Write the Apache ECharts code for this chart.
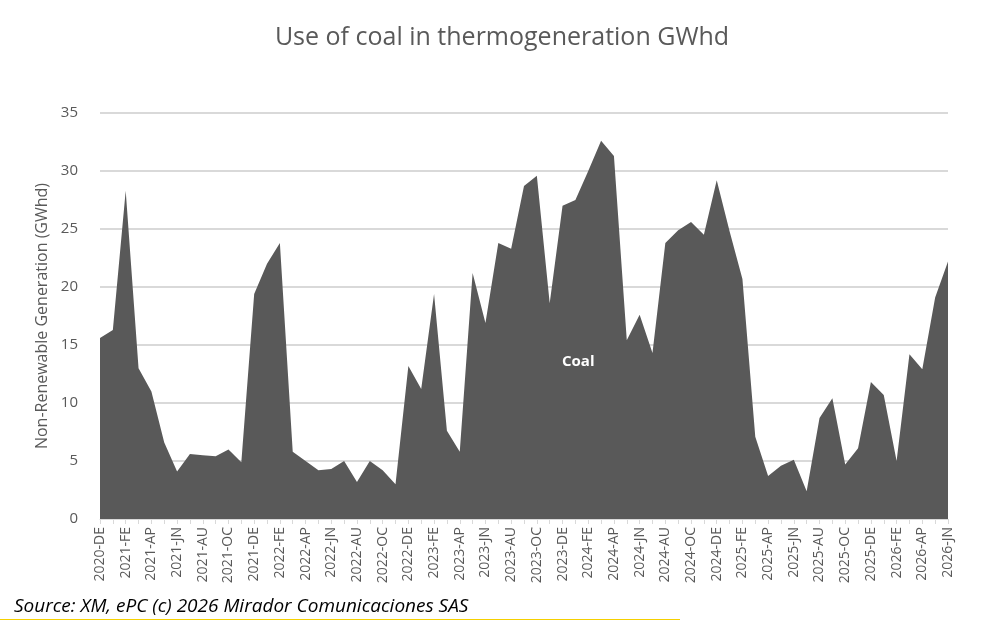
<!DOCTYPE html>
<html><head><meta charset="utf-8">
<script src="https://cdn.jsdelivr.net/npm/echarts@6/dist/echarts.min.js"></script>
<style>html,body{margin:0;padding:0;background:#fff}#c{width:1004px;height:621px}</style>
</head><body><div id="c"></div>
<script>
const monthAbbr = ['JA','FE','MR','AP','MY','JN','JL','AU','SE','OC','NO','DE'];
const categories = [];
for (let y = 2020, m = 11; !(y === 2026 && m === 6); ) { categories.push(y + '-' + monthAbbr[m]); m++; if (m === 12) { m = 0; y++; } }
const coal = [15.6,16.3,28.3,13.0,11.0,6.6,4.1,5.6,5.5,5.4,6.0,4.9,19.4,22.0,23.8,5.8,5.0,4.2,4.3,5.0,3.2,5.0,4.2,3.0,13.2,11.2,19.4,7.6,5.8,21.2,16.9,23.8,23.3,28.7,
29.6,18.6,27.0,27.5,30.0,32.6,31.3,15.4,17.6,14.3,23.8,24.9,25.6,24.5,29.2,24.8,20.7,7.1,3.7,4.6,5.1,2.4,8.7,10.4,4.7,6.1,11.8,10.7,5.0,14.2,12.9,19.1,22.2];
const chart = echarts.init(document.getElementById('c'));
chart.setOption({
  animation:false,
  title:{text:'Use of coal in thermogeneration GWhd',left:'center',top:20,textStyle:{fontFamily:'Open Sans',fontWeight:'normal',fontSize:25,color:'#595959'}},
  grid:{left:100,right:56,top:113,bottom:102},
  xAxis:{type:'category',data:categories,boundaryGap:false,
    axisLine:{lineStyle:{color:'#d9d9d9'}},axisTick:{show:true,interval:0,lineStyle:{color:'#d9d9d9'}},
    axisLabel:{interval:1,rotate:90,color:'#595959',fontSize:14,fontFamily:'Open Sans'}},
  yAxis:{type:'value',min:0,max:35,interval:5,name:'Non-Renewable Generation (GWhd)',nameLocation:'middle',nameGap:48,
    nameTextStyle:{color:'#595959',fontSize:16,fontFamily:'Open Sans'},
    axisLabel:{color:'#595959',fontSize:15,fontFamily:'Open Sans',margin:22},
    splitLine:{lineStyle:{color:'#d9d9d9',width:2}},axisLine:{show:false},axisTick:{show:false}},
  series:[{type:'line',name:'Coal',data:coal,symbol:'none',lineStyle:{width:0},areaStyle:{color:'#595959',opacity:1}}],
  graphic:[
    {type:'text',z:100,x:562,y:354,style:{text:'Coal',fill:'#ffffff',font:'bold 15px "Open Sans"'}},
    {type:'text',z:100,x:14,y:597,style:{text:'Source: XM, ePC (c) 2026 Mirador Comunicaciones SAS',fill:'#000',font:'italic 19px "Open Sans"'}},
    {type:'rect',z:100,shape:{x:0,y:619,width:680,height:1},style:{fill:'#f5d000'}}
  ]
});
</script></body></html>
